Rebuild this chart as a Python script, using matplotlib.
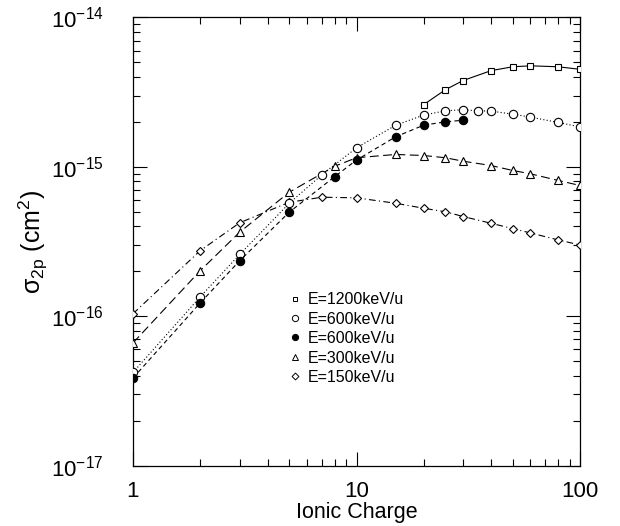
import matplotlib
matplotlib.use("Agg")
import matplotlib.pyplot as plt
from matplotlib.lines import Line2D
from matplotlib.ticker import LogLocator, NullFormatter, FixedLocator

plt.rcParams['font.family'] = ['Liberation Sans', 'DejaVu Sans']
plt.rcParams['mathtext.fontset'] = 'custom'
plt.rcParams['mathtext.rm'] = 'Liberation Sans'
plt.rcParams['mathtext.it'] = 'Liberation Sans'
plt.rcParams['mathtext.sf'] = 'Liberation Sans'

# Data (ionic charge, cross section in cm^2)
q_1200 = [20, 25, 30, 40, 50, 60, 80, 100]
s_1200 = [2.61e-15, 3.28e-15, 3.78e-15, 4.40e-15, 4.67e-15, 4.74e-15, 4.67e-15, 4.49e-15]

q_600o = [1, 2, 3, 5, 7, 10, 15, 20, 25, 30, 35, 40, 50, 60, 80, 100]
s_600o = [4.21e-17, 1.35e-16, 2.59e-16, 5.70e-16, 8.84e-16, 1.34e-15, 1.90e-15, 2.22e-15,
          2.37e-15, 2.41e-15, 2.37e-15, 2.36e-15, 2.25e-15, 2.15e-15, 1.98e-15, 1.85e-15]

q_600f = [1, 2, 3, 5, 8, 10, 15, 20, 25, 30]
s_600f = [3.86e-17, 1.23e-16, 2.35e-16, 4.97e-16, 8.61e-16, 1.11e-15, 1.59e-15, 1.90e-15,
          2.00e-15, 2.05e-15]

q_300 = [1, 2, 3, 5, 8, 10, 15, 20, 25, 30, 40, 50, 60, 80, 100]
s_300 = [6.63e-17, 2.02e-16, 3.65e-16, 6.76e-16, 1.01e-15, 1.15e-15, 1.21e-15, 1.19e-15,
         1.15e-15, 1.09e-15, 1.02e-15, 9.45e-16, 8.98e-16, 8.10e-16, 7.50e-16]

q_150 = [1, 2, 3, 5, 7, 10, 15, 20, 25, 30, 40, 50, 60, 80, 100]
s_150 = [1.04e-16, 2.75e-16, 4.22e-16, 5.79e-16, 6.26e-16, 6.20e-16, 5.70e-16, 5.28e-16,
         5.00e-16, 4.65e-16, 4.19e-16, 3.86e-16, 3.61e-16, 3.24e-16, 3.00e-16]

labels = ["E=1200keV/u", "E=600keV/u", "E=600keV/u", "E=300keV/u", "E=150keV/u"]
x_ticks = [1, 10, 100]
x_ticklabels = ['1', '10', '100']
y_ticks = [1e-17, 1e-16, 1e-15, 1e-14]
y_ticklabels = [r'$\mathrm{10^{-17}}$', r'$\mathrm{10^{-16}}$', r'$\mathrm{10^{-15}}$',
                r'$\mathrm{10^{-14}}$']

fig = plt.figure(figsize=(6.2, 5.26), dpi=100)
ax = fig.add_axes([0.2145, 0.1146, 0.7210, 0.8524])

lw = 0.8
ax.plot(q_1200, s_1200, color='black', lw=lw, ls='-', marker='s', ms=5,
        mfc='white', mec='black', mew=0.8, zorder=5)
ax.plot(q_600o, s_600o, color='black', lw=lw, ls=(0, (1, 2)), marker='o', ms=6,
        mfc='white', mec='black', mew=0.8, zorder=4)
ax.plot(q_300, s_300, color='black', lw=lw, ls=(0, (8, 4)), marker='^', ms=6,
        mfc='white', mec='black', mew=0.8, zorder=3)
ax.plot(q_600f, s_600f, color='black', lw=lw, ls=(0, (4, 3)), marker='o', ms=6,
        mfc='black', mec='black', mew=0.8, zorder=6)
ax.plot(q_150, s_150, color='black', lw=lw, ls=(0, (6, 3, 1, 3)), marker='D', ms=4.5,
        mfc='white', mec='black', mew=0.8, zorder=3)

ax.set_xscale('log')
ax.set_yscale('log')
ax.set_xlim(1, 100)
ax.set_ylim(1e-17, 1e-14)

ax.xaxis.set_minor_locator(LogLocator(base=10, subs=range(2, 10), numticks=10))
ax.yaxis.set_minor_locator(LogLocator(base=10, subs=range(2, 10), numticks=10))
ax.xaxis.set_minor_formatter(NullFormatter())
ax.yaxis.set_minor_formatter(NullFormatter())
ax.set_xticks(x_ticks)
ax.set_xticklabels(x_ticklabels)
ax.set_yticks(y_ticks)
ax.set_yticklabels(y_ticklabels)

ax.tick_params(which='both', direction='in', top=True, right=True, width=0.8)
ax.tick_params(which='major', length=10)
ax.tick_params(which='minor', length=5)
ax.tick_params(axis='x', which='major', labelsize=16, pad=11)
ax.tick_params(axis='y', which='major', labelsize=16, pad=21)
for sp in ax.spines.values():
    sp.set_linewidth(0.9)

ax.set_xlabel('Ionic Charge', fontsize=15.5, labelpad=0)
ax.set_ylabel(r'$\mathrm{\sigma_{2p}}$ (cm$^{2}$)', fontsize=18, labelpad=1)

handles = [
    Line2D([], [], ls='none', marker='s', ms=3.5, mfc='white', mec='black', mew=0.7),
    Line2D([], [], ls='none', marker='o', ms=4.5, mfc='white', mec='black', mew=0.7),
    Line2D([], [], ls='none', marker='o', ms=4.5, mfc='black', mec='black', mew=0.7),
    Line2D([], [], ls='none', marker='^', ms=4.5, mfc='white', mec='black', mew=0.7),
    Line2D([], [], ls='none', marker='D', ms=3.5, mfc='white', mec='black', mew=0.7),
]
ax.legend(handles, labels, loc='upper left', bbox_to_anchor=(0.335, 0.405), frameon=False,
          fontsize=11.5, handlelength=0.5, handletextpad=0.55, labelspacing=0.28,
          borderpad=0)

fig.savefig('out.png', dpi=100)
